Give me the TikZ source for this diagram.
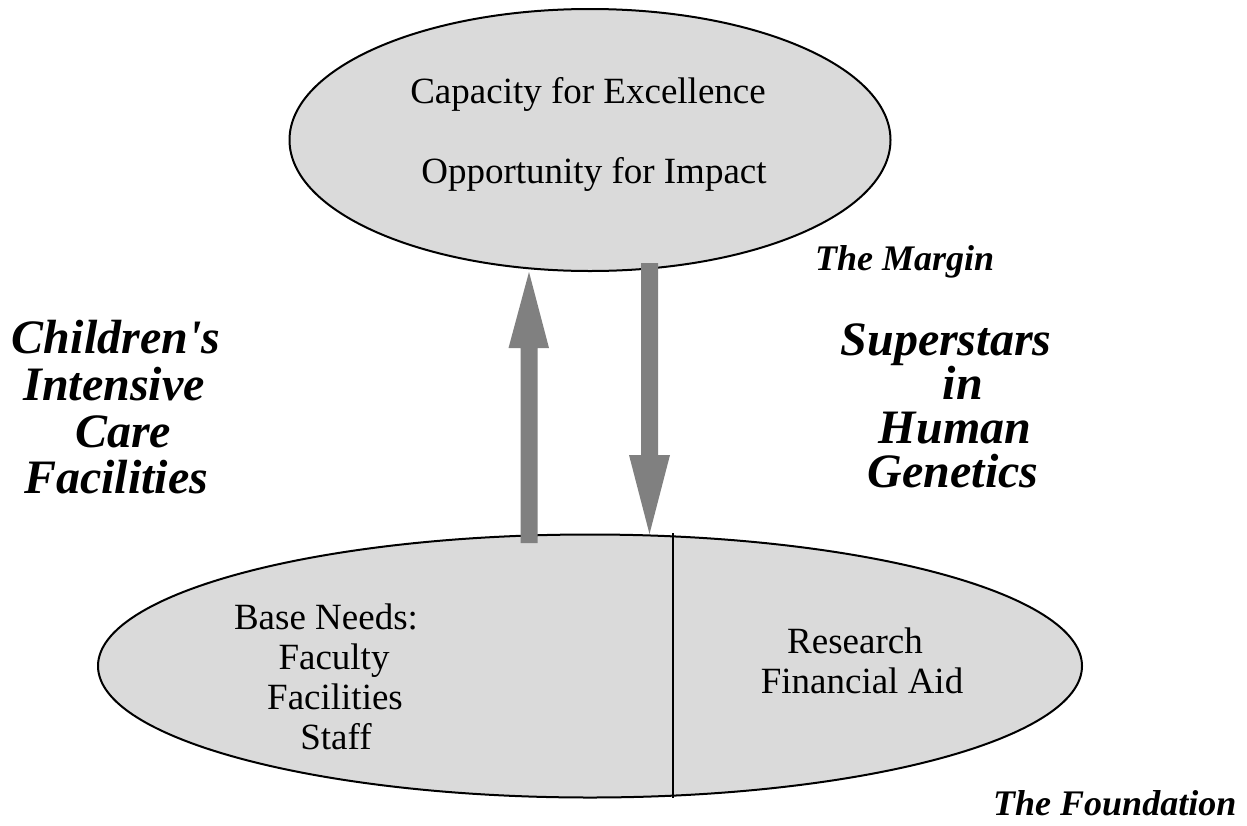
\documentclass[tikz,border=0pt]{standalone}
\usepackage{fontspec}
\setmainfont{Liberation Serif}
\usetikzlibrary{shapes.geometric}
\definecolor{ellfill}{RGB}{218,218,218}
\definecolor{arrgray}{RGB}{128,128,128}
\begin{document}
\begin{tikzpicture}[x=1pt,y=-1pt,
  ell/.style={ellipse, draw=black, line width=2pt, fill=ellfill, inner sep=0pt},
  bodytext/.style={font=\fontsize{37}{40}\selectfont, anchor=base, inner sep=0pt},
  sidetag/.style={font=\fontsize{36}{40}\selectfont\bfseries\itshape, anchor=base west, inner sep=0pt},
  bigside/.style={font=\fontsize{48}{48}\selectfont\bfseries\itshape, anchor=base, inner sep=0pt},
  fatarrow/.style={fill=arrgray, draw=none}]
\useasboundingbox (0,0) rectangle (1247,825);
% ellipses
\node[ell, minimum width=601pt, minimum height=262pt] (topell) at (590,140) {};
\node[ell, minimum width=984pt, minimum height=263pt] (baseell) at (590,666) {};
% divider
\coordinate (divtop) at (673,533);
\coordinate (divbot) at (673,798);
\draw[line width=1.3pt] (divtop) -- (divbot);
% up arrow
\coordinate (uptail) at (529,543);
\coordinate (uptip) at (529,272);
\fill[fatarrow] (uptail) ++(-8.5,0) -- ++(0,-195) -- ++(-12,0) -- (uptip) -- ++(20,76) -- ++(-11.5,0) -- ++(0,195) -- cycle;
% down arrow
\coordinate (dntail) at (649.5,263);
\coordinate (dntip) at (649.5,534);
\fill[fatarrow] (dntail) ++(-8.5,0) -- ++(0,192) -- ++(-12,0) -- (dntip) -- ++(20.5,-79) -- ++(-12,0) -- ++(0,-192) -- cycle;
% top ellipse text
\node[bodytext] (cap) at (588,103) {Capacity for Excellence};
\node[bodytext] (opp) at (594,183) {Opportunity for Impact};
% base ellipse text
\node[bodytext] (bn) at (326,629) {Base Needs:};
\node[bodytext] (fac) at (334,669) {Faculty};
\node[bodytext] (facil) at (335,709) {Facilities};
\node[bodytext] (staff) at (336,749) {Staff};
\node[bodytext] (res) at (855,653) {Research};
\node[bodytext] (fin) at (862,693) {Financial Aid};
% side tags
\node[sidetag] (margin) at (815,270) {The Margin};
\node[sidetag] (found) at (993,815) {The Foundation};
% left big label
\node[bigside] (l1) at (116,353) {Children\textquotesingle s};
\node[bigside] (l2) at (114,400) {Intensive};
\node[bigside] (l3) at (123,447) {Care};
\node[bigside] (l4) at (116,493) {Facilities};
% right big label
\node[bigside] (r1) at (946,355) {Superstars};
\node[bigside] (r2) at (963,399) {in};
\node[bigside] (r3) at (955,443) {Human};
\node[bigside] (r4) at (953,487) {Genetics};
\end{tikzpicture}
\end{document}
